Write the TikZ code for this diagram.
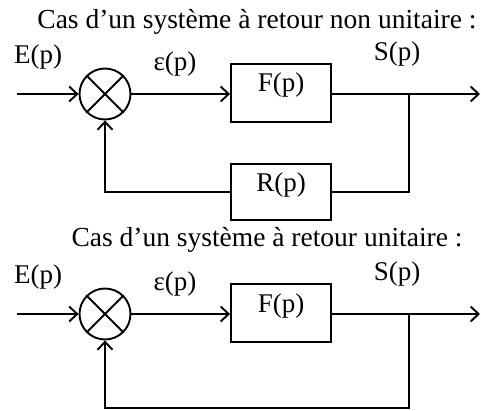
\documentclass[tikz,border=0pt]{standalone}
\usepackage{fontspec}
\setmainfont{Liberation Serif}
\usetikzlibrary{arrows.meta, positioning, calc}
\tikzset{
  every picture/.style={line width=1.9pt},
  block/.style={draw, minimum width=100pt, inner sep=0pt, text height=28pt, text depth=30pt, font=\fontsize{27}{30}\selectfont},
  sumnode/.style={draw, circle, minimum size=51pt, inner sep=0pt},
  arrow/.style={-{Straight Barb[length=8pt, width=15pt]}},
  sig/.style={font=\fontsize{27}{30}\selectfont},
  title/.style={font=\fontsize{27.5}{30}\selectfont},
}
\begin{document}
\begin{tikzpicture}[x=1pt, y=-1pt]
  \useasboundingbox (0,0) rectangle (481,411);
  % retour non unitaire
  \node[title] (t1) at (257,22) {Cas d’un système à retour non unitaire :};
  \node[sig] (e1) at (38,57) {E(p)};
  \node[sig] (eps1) at (175,64) {ε(p)};
  \node[sig] (s1) at (397,54) {S(p)};
  \coordinate (in1) at (17,94);
  \node[sumnode] (sum1) at (105,94) {};
  \draw (sum1.45) -- (sum1.225) (sum1.135) -- (sum1.315);
  \node[block] (F1) at (281,93) {F(p)};
  \node[block, text depth=28pt] (R1) at (281,192) {R(p)};
  \coordinate (br1) at (409,94);
  \coordinate (out1) at (480,94);
  \draw[arrow] (in1) -- (sum1.west);
  \draw[arrow] (sum1.east) -- (F1.west |- sum1.east);
  \draw[arrow] (F1.east |- br1) -- (out1);
  \draw (br1) |- (R1.east);
  \draw[arrow] (R1.west) -| (sum1.south);
  % retour unitaire
  \node[title] (t2) at (267,240) {Cas d’un système à retour unitaire :};
  \node[sig] (e2) at (38,277) {E(p)};
  \node[sig] (eps2) at (175,284) {ε(p)};
  \node[sig] (s2) at (397,274) {S(p)};
  \coordinate (in2) at (17,314);
  \node[sumnode] (sum2) at (105,314) {};
  \draw (sum2.45) -- (sum2.225) (sum2.135) -- (sum2.315);
  \node[block] (F2) at (281,313) {F(p)};
  \coordinate (br2) at (409,314);
  \coordinate (out2) at (480,314);
  \coordinate (lo2) at (409,408);
  \draw[arrow] (in2) -- (sum2.west);
  \draw[arrow] (sum2.east) -- (F2.west |- sum2.east);
  \draw[arrow] (F2.east |- br2) -- (out2);
  \draw[arrow] (br2) -- (lo2) -| (sum2.south);
\end{tikzpicture}
\end{document}
